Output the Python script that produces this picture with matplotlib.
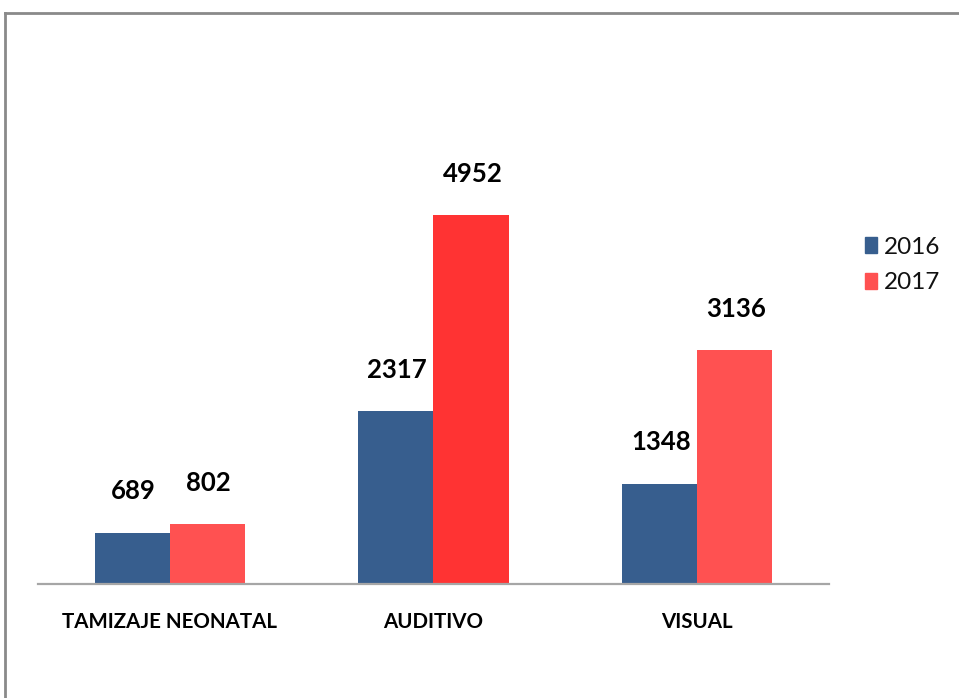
import numpy as np
import matplotlib.pyplot as plt
from matplotlib.lines import Line2D

categories = ["TAMIZAJE NEONATAL", "AUDITIVO", "VISUAL"]
years = ["2016", "2017"]
values_2016 = [689, 2317, 1348]
values_2017 = [802, 4952, 3136]

blue = "#375e8e"
red = "#ff5151"
red_bright = "#ff3333"
colors_2017 = [red, red_bright, red]

fig = plt.figure(figsize=(9.59, 6.98), dpi=100)
ax = fig.add_axes([38/959, (698-584)/698, (829-38)/959, (584-100)/698])

x = np.arange(len(categories))
w = 0.285
b1 = ax.bar(x - w/2, values_2016, w, color=blue, label=years[0])
b2 = ax.bar(x + w/2, values_2017, w, color=colors_2017, label=years[1])

for bars, vals in ((b1, values_2016), (b2, values_2017)):
    for r, v in zip(bars, vals):
        ax.annotate(str(v), (r.get_x() + r.get_width()/2, r.get_height()),
                    xytext=(1, 24), textcoords="offset points",
                    ha="center", va="baseline", fontsize=18.5,
                    fontweight="bold", family="Lato", color="black")

ax.set_xlim(-0.5, 2.5)
ax.set_ylim(0, 6500)
ax.set_xticks(x)
ax.set_xticklabels(categories, fontsize=14.8, fontweight="bold", family="Lato",
                   color="black")
ax.tick_params(axis="x", length=0, pad=20)
ax.set_yticks([])
for s in ("top", "right", "left"):
    ax.spines[s].set_visible(False)
ax.spines["bottom"].set_color("#a6a6a6")
ax.spines["bottom"].set_linewidth(1.6)

handles = [plt.Rectangle((0, 0), 1, 1, color=blue),
           plt.Rectangle((0, 0), 1, 1, color=red)]
leg = fig.legend(handles, years, loc="center left",
                 bbox_to_anchor=(843/959, 1 - 265/698), frameon=False,
                 prop={"family": "Lato", "size": 17.5},
                 handlelength=0.5, handleheight=0.65, handletextpad=0.3,
                 labelspacing=0.6)
for t in leg.get_texts():
    t.set_color("#111111")

# outer frame (only top and left edges visible in the crop)
fig.add_artist(Line2D([0.0057, 1.0], [1 - 12.5/698, 1 - 12.5/698],
                      transform=fig.transFigure, color="#8a8a8a", lw=2))
fig.add_artist(Line2D([0.0057, 0.0057], [0.0, 1 - 12.5/698],
                      transform=fig.transFigure, color="#8a8a8a", lw=2))

fig.savefig("out.png", dpi=100)
